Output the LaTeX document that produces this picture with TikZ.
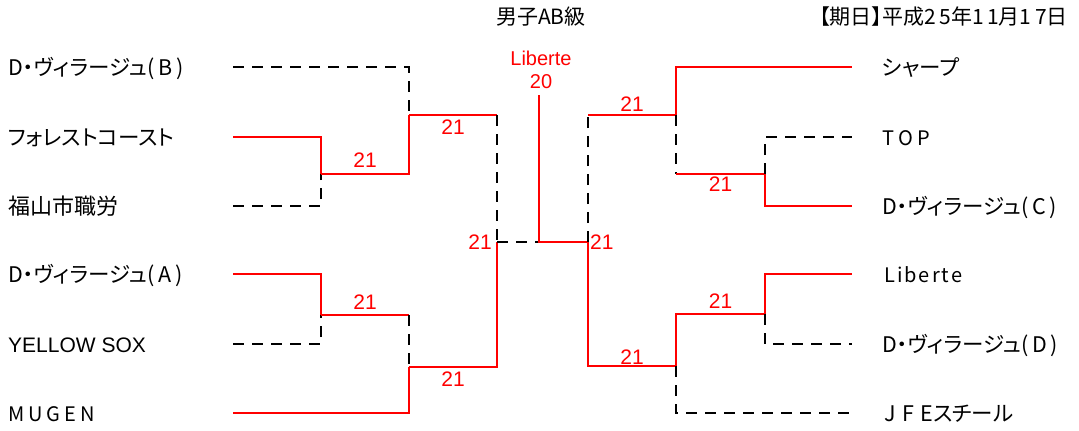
\documentclass[tikz,border=0pt]{standalone}
\usepackage{fontspec}
\setmainfont{Liberation Sans}
\newfontfamily\jp[RawFeature=+palt]{Noto Sans CJK JP}
\newfontfamily\jpk{Noto Sans CJK JP}
\usetikzlibrary{positioning}

\begin{document}
\begin{tikzpicture}[
    x=1pt, y=-1pt,
    team/.style={inner sep=0pt, anchor=west, text height=16pt, text depth=0pt, font=\jp\fontsize{21.5}{24}\selectfont},
    score/.style={inner sep=0pt, text=red, font=\fontsize{21}{24}\selectfont},
    win/.style={draw=red, line width=2.8pt},
    lose/.style={draw=black, line width=2.8pt, dash pattern=on 11pt off 8pt}
]
    \useasboundingbox (0,0) rectangle (1079,431);

    \node[inner sep=0pt, font=\jpk\fontsize{21}{24}\selectfont] (title) at (541,17) {男子AB級};
    \node[inner sep=0pt, anchor=east, font=\jp\fontsize{21}{24}\selectfont] (date) at (1068,17)
        {【期日】平成{\addfontfeature{LetterSpace=45}2\,5}年{\addfontfeature{LetterSpace=45}1\,1}月{\addfontfeature{LetterSpace=45}1\,7}日};

    % line ends
    \coordinate (l1) at (233,67);  \coordinate (r1) at (852,67);
    \coordinate (l2) at (233,137); \coordinate (r2) at (852,137);
    \coordinate (l3) at (233,206); \coordinate (r3) at (852,206);
    \coordinate (l4) at (233,274); \coordinate (r4) at (852,274);
    \coordinate (l5) at (233,344); \coordinate (r5) at (852,344);
    \coordinate (l6) at (233,413); \coordinate (r6) at (852,413);

    % joins
    \coordinate (a1) at (321,174); \coordinate (a2) at (409,115);
    \coordinate (a3) at (321,315); \coordinate (a4) at (409,367);
    \coordinate (sL) at (497,242); \coordinate (fin) at (539,242); \coordinate (sR) at (588,242);
    \coordinate (b1) at (765,174); \coordinate (b2) at (676,115);
    \coordinate (b3) at (765,314); \coordinate (b4) at (676,366);
    \coordinate (chTop) at (539,95);

    % left teams
    \node[team] (vilB) at (8,67) {D・ヴィラージュ{\addfontfeature{LetterSpace=18}(B)}};
    \node[team] (forest) at (8,137) {フォレストコースト};
    \node[team, font=\jpk\fontsize{22}{24}\selectfont] (fukuyama) at (8,206) {福山市職労};
    \node[team] (vilA) at (8,274) {D・ヴィラージュ{\addfontfeature{LetterSpace=18}(A)}};
    \node[team, font=\fontsize{21}{24}\selectfont] (yellow) at (8,344) {YELLOW SOX};
    \node[team, font=\jpk\fontsize{20}{24}\selectfont\addfontfeature{LetterSpace=20}] (mugen) at (8,413) {MUGEN};

    % right teams
    \node[team, right=30pt of r1] (sharp) {シャープ};
    \node[team, right=30pt of r2, font=\jpk\fontsize{20}{24}\selectfont\addfontfeature{LetterSpace=22}] (topTeam) {TOP};
    \node[team, right=30pt of r3] (vilC) {D・ヴィラージュ{\addfontfeature{LetterSpace=18}(C)}};
    \node[team, right=32pt of r4, font=\jpk\fontsize{20}{24}\selectfont\addfontfeature{LetterSpace=10}] (liberte) {Liberte};
    \node[team, right=30pt of r5] (vilD) {D・ヴィラージュ{\addfontfeature{LetterSpace=18}(D)}};
    \node[team, right=32pt of r6] (jfe) {{\addfontfeature{LetterSpace=30}JFE}スチール};

    % champion
    \node[score, align=center, font=\fontsize{20}{23}\selectfont] (champ) at (541,70) {Liberte\\20};

    % left half
    \draw[lose] (l1) -| (a2);
    \draw[win] (l2) -| (a1);
    \draw[lose] (l3) -| (a1);
    \draw[win] (a1) -| (a2);
    \draw[win] (a2) -- (a2 -| sL);
    \draw[lose] (a2 -| sL) -- (sL);
    \draw[win] (l4) -| (a3);
    \draw[lose] (l5) -| (a3);
    \draw[win] (a3) -- (a3 -| a4);
    \draw[lose] (a3 -| a4) -- (a4);
    \draw[win] (l6) -| (a4);
    \draw[win] (a4) -| (sL);

    % final
    \draw[lose] (sL) -- (fin);
    \draw[win] (chTop) -- (fin) -- (sR);

    % right half
    \draw[lose] (sR) -- (sR |- b2);
    \draw[win] (sR |- b2) -- (b2);
    \draw[win] (b2) |- (r1);
    \draw[lose] (b2) -- (b2 |- b1);
    \draw[win] (b2 |- b1) -- (b1);
    \draw[lose] (b1) |- (r2);
    \draw[win] (b1) |- (r3);
    \draw[win] (sR) |- (b4);
    \draw[win] (b4) |- (b3);
    \draw[win] (b3) |- (r4);
    \draw[lose] (b3) |- (r5);
    \draw[lose] (b4) |- (r6);

    % scores
    \path (a1) -- (a1 -| a2) node[score, midway, above=6pt] (sc1) {21};
    \path (a2) -- (a2 -| sL) node[score, midway, below=5pt] (sc2) {21};
    \path (a3) -- (a3 -| a4) node[score, midway, above=5pt] (sc3) {21};
    \path (a4) -- (a4 -| sL) node[score, midway, below=5pt] (sc4) {21};
    \node[score, left=5pt of sL] (sc5) {21};
    \node[score, right=2pt of sR] (sc6) {21};
    \path (sR |- b2) -- (b2) node[score, midway, above=3pt] (sc7) {21};
    \path (b2 |- b1) -- (b1) node[score, midway, below=3pt] (sc8) {21};
    \path (b4 |- b3) -- (b3) node[score, midway, above=5pt] (sc9) {21};
    \path (sR |- b4) -- (b4) node[score, midway, above=1pt] (sc10) {21};
\end{tikzpicture}
\end{document}
